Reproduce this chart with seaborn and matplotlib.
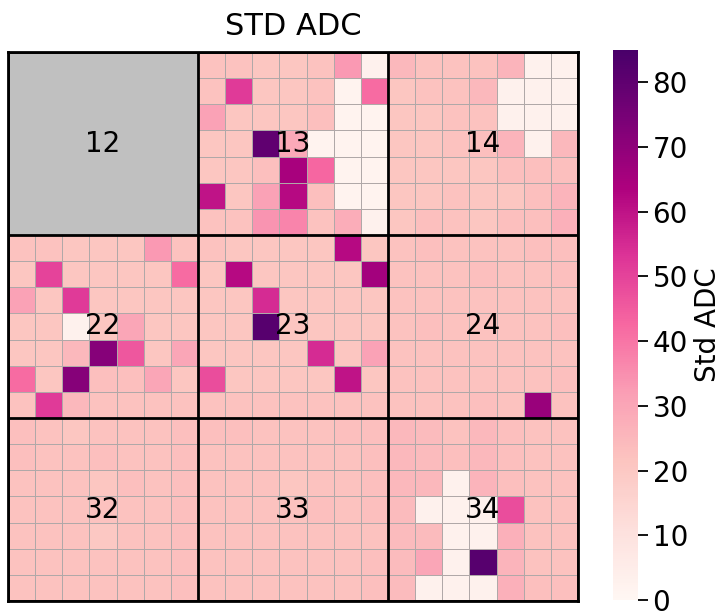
import numpy as np
import pandas as pd
import matplotlib
matplotlib.use("Agg")
import matplotlib.pyplot as plt
from matplotlib.patches import Rectangle
import seaborn as sns

# Per-module standard deviation of ADC, 7x7 channels per module
block_names = [["12", "13", "14"],
               ["22", "23", "24"],
               ["32", "33", "34"]]

std_12 = [[np.nan] * 7 for _ in range(7)]

std_13 = [
    [22, 22, 21, 21, 22, 33, 3],
    [22, 52, 21, 21, 22, 2, 42],
    [31, 21, 21, 21, 23, 2, 2],
    [21, 21, 80, 29, 2, 2, 2],
    [21, 21, 23, 65, 43, 2, 2],
    [60, 21, 31, 62, 23, 2, 2],
    [22, 22, 34, 37, 22, 28, 3],
]

std_14 = [
    [25, 22, 22, 22, 26, 3, 3],
    [21, 22, 22, 25, 3, 3, 3],
    [21, 21, 22, 22, 3, 3, 3],
    [21, 21, 22, 23, 26, 3, 25],
    [21, 21, 21, 21, 23, 23, 23],
    [21, 21, 22, 21, 21, 23, 26],
    [21, 23, 22, 21, 23, 23, 27],
]

std_22 = [
    [22, 22, 21, 21, 21, 33, 22],
    [21, 50, 21, 21, 21, 21, 42],
    [31, 21, 52, 21, 21, 21, 21],
    [21, 21, 3, 21, 30, 21, 21],
    [21, 21, 25, 72, 46, 21, 30],
    [42, 21, 72, 23, 23, 30, 21],
    [22, 52, 25, 22, 22, 22, 22],
]

std_23 = [
    [22, 21, 21, 21, 21, 62, 21],
    [21, 62, 21, 21, 21, 21, 66],
    [21, 21, 55, 21, 21, 21, 21],
    [21, 21, 82, 21, 21, 21, 21],
    [21, 21, 21, 21, 55, 21, 31],
    [48, 21, 21, 21, 21, 60, 21],
    [22, 22, 22, 22, 22, 22, 22],
]

std_24 = [
    [22, 23, 22, 22, 22, 23, 23],
    [22, 22, 22, 23, 22, 22, 23],
    [22, 22, 22, 22, 22, 22, 22],
    [22, 23, 22, 22, 22, 22, 23],
    [22, 22, 22, 22, 22, 22, 22],
    [22, 22, 22, 22, 22, 22, 23],
    [22, 22, 22, 23, 22, 68, 22],
]

std_32 = [
    [23, 22, 21, 22, 22, 22, 23],
    [23, 22, 22, 23, 22, 22, 23],
    [22, 22, 22, 21, 23, 22, 23],
    [22, 22, 22, 22, 22, 22, 23],
    [22, 22, 22, 20, 22, 22, 23],
    [22, 22, 22, 22, 22, 22, 23],
    [22, 22, 22, 22, 22, 22, 23],
]

std_33 = [
    [23, 23, 22, 22, 22, 23, 23],
    [22, 22, 22, 22, 22, 22, 23],
    [22, 22, 22, 21, 22, 22, 23],
    [22, 22, 22, 22, 23, 22, 23],
    [22, 22, 22, 22, 22, 22, 22],
    [22, 22, 22, 22, 22, 22, 23],
    [22, 22, 22, 22, 22, 22, 23],
]

std_34 = [
    [25, 24, 22, 25, 23, 22, 22],
    [25, 24, 23, 25, 23, 22, 22],
    [25, 25, 3, 26, 23, 22, 22],
    [24, 3, 3, 3, 48, 22, 22],
    [24, 24, 3, 3, 27, 22, 22],
    [24, 30, 3, 82, 26, 22, 22],
    [24, 3, 3, 3, 27, 23, 23],
]

blocks = [[std_12, std_13, std_14],
          [std_22, std_23, std_24],
          [std_32, std_33, std_34]]

n = 7
grid = np.block([[np.array(b, dtype=float) for b in row] for row in blocks])
df = pd.DataFrame(grid)

sns.set_style("white")
plt.rcParams["text.color"] = "black"
plt.rcParams["axes.labelcolor"] = "black"
plt.rcParams["ytick.color"] = "black"

fig = plt.figure(figsize=(7.28, 6.12), dpi=100)
W, H = 728, 612
ax = fig.add_axes([8 / W, 1 - 601 / H, 570 / W, 549 / H])
cax = fig.add_axes([613 / W, 1 - 600 / H, 25 / W, 550 / H])

sns.heatmap(df, ax=ax, cbar_ax=cax, cmap="RdPu", vmin=0, vmax=85,
            linewidths=0.6, linecolor="#b0a8a8",
            xticklabels=False, yticklabels=False,
            cbar_kws={"label": "Std ADC", "ticks": range(0, 90, 10)})

# modules without data are shown as a flat grey block
for i, row in enumerate(blocks):
    for j, b in enumerate(row):
        if np.all(np.isnan(np.array(b, dtype=float))):
            ax.add_patch(Rectangle((j * n, i * n), n, n, facecolor="#c0c0c0",
                                   edgecolor="none", zorder=2))

# module boundaries
for k in range(0, 3 * n + 1, n):
    ax.axhline(k, color="black", lw=2, zorder=3)
    ax.axvline(k, color="black", lw=2, zorder=3)
for s in ax.spines.values():
    s.set_visible(True)
    s.set_color("black")
    s.set_linewidth(2)

for i, row in enumerate(block_names):
    for j, name in enumerate(row):
        ax.text(j * n + n / 2, i * n + n / 2, name, ha="center", va="center",
                fontsize=20, color="black", zorder=4)

ax.set_title("STD ADC", fontsize=22, pad=12, color="black")

cax.tick_params(labelsize=20, length=7, width=1.3, colors="black")
cax.yaxis.label.set_size(20)
for s in cax.spines.values():
    s.set_visible(False)

fig.savefig("out.png", dpi=100)
